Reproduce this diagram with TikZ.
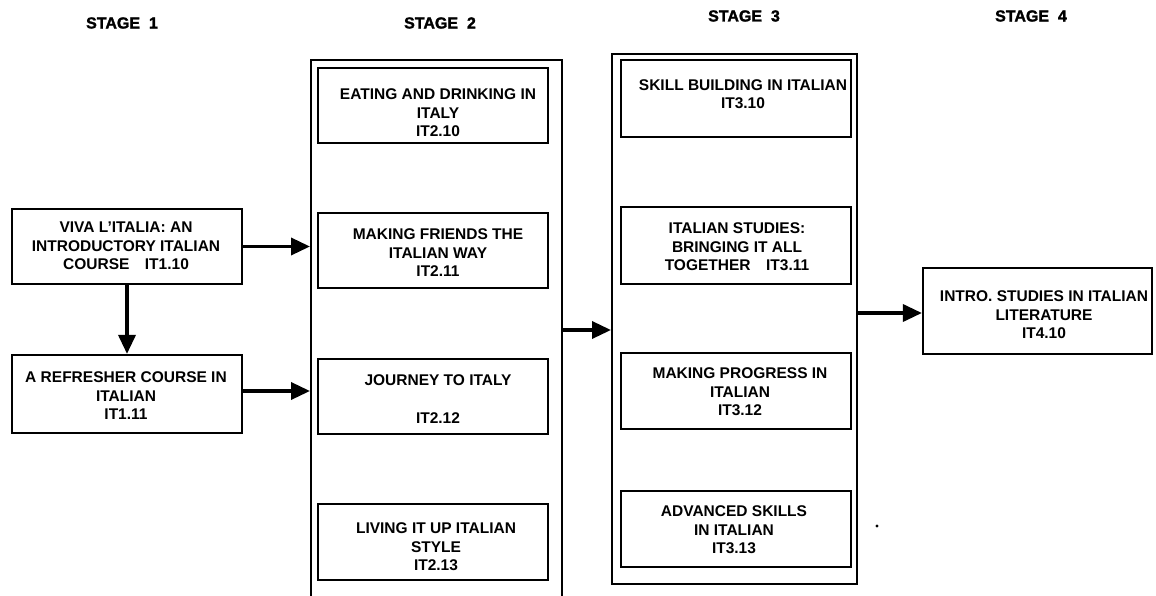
\documentclass[tikz,border=0pt]{standalone}
\usepackage{fontspec}
\setmainfont{Liberation Sans}
\newfontfamily\stagefont[FakeBold=1.6]{Liberation Sans Bold}
\usetikzlibrary{arrows.meta}
\begin{document}
\begin{tikzpicture}[x=1pt,y=-1pt,
  box/.style={draw, line width=2.2pt, inner sep=0pt},
  cont/.style={draw, line width=2pt, inner sep=0pt},
  txt/.style={align=center, font=\fontsize{15.5}{18.5}\selectfont\bfseries, inner sep=0pt},
  stagelbl/.style={font=\fontsize{16}{18}\stagefont, inner sep=0pt},
  arr/.style={line width=3.5pt, -{Triangle[length=19pt,width=17pt]}}]
\useasboundingbox (0,0) rectangle (1156,596);
\clip (0,0) rectangle (1156,596);
\fill[white] (0,0) rectangle (1156,596);

% stage labels
\node[stagelbl] (s1) at (122,23) {STAGE\ \ 1};
\node[stagelbl] (s2) at (440,23) {STAGE\ \ 2};
\node[stagelbl] (s3) at (744,16) {STAGE\ \ 3};
\node[stagelbl] (s4) at (1031,16) {STAGE\ \ 4};

% containers
\node[cont, minimum width=251pt, minimum height=580pt] (c2) at (436.5,350) {};
\node[cont, minimum width=245pt, minimum height=530pt] (c3) at (734.5,319) {};

% stage 1
\node[box, minimum width=230pt, minimum height=75pt] (b110) at (127,246.5) {};
\node[txt] (t110) at (126,246) {VIVA L'ITALIA: AN\\INTRODUCTORY ITALIAN\\COURSE\quad IT1.10};
\node[box, minimum width=230pt, minimum height=78pt] (b111) at (127,394) {};
\node[txt] (t111) at (126,396) {A REFRESHER COURSE IN\\ITALIAN\\IT1.11};

% stage 2
\node[box, minimum width=230pt, minimum height=75pt] (b210) at (433,105.5) {};
\node[txt] (t210) at (438,113) {EATING AND DRINKING IN\\ITALY\\IT2.10};
\node[box, minimum width=230pt, minimum height=75pt] (b211) at (433,250.5) {};
\node[txt] (t211) at (438,253) {MAKING FRIENDS THE\\ITALIAN WAY\\IT2.11};
\node[box, minimum width=230pt, minimum height=75pt] (b212) at (433,396.5) {};
\node[txt] (t212) at (438,399) {JOURNEY TO ITALY\\[19pt]IT2.12};
\node[box, minimum width=230pt, minimum height=76pt] (b213) at (433,542) {};
\node[txt] (t213) at (436,547) {LIVING IT UP ITALIAN\\STYLE\\IT2.13};

% stage 3
\node[box, minimum width=230pt, minimum height=77pt] (b310) at (736,98.5) {};
\node[txt] (t310) at (743,94) {SKILL BUILDING IN ITALIAN\\IT3.10};
\node[box, minimum width=230pt, minimum height=77pt] (b311) at (736,245.5) {};
\node[txt] (t311) at (737,247) {ITALIAN STUDIES:\\BRINGING IT ALL\\TOGETHER\quad IT3.11};
\node[box, minimum width=230pt, minimum height=76pt] (b312) at (736,391) {};
\node[txt] (t312) at (740,392) {MAKING PROGRESS IN\\ITALIAN\\IT3.12};
\node[box, minimum width=230pt, minimum height=76pt] (b313) at (736,529) {};
\node[txt] (t313) at (734,530) {ADVANCED SKILLS\\IN ITALIAN\\IT3.13};

% stage 4
\node[box, minimum width=229pt, minimum height=86pt] (b410) at (1037.5,311) {};
\node[txt] (t410) at (1044,315) {INTRO. STUDIES IN ITALIAN\\LITERATURE\\IT4.10};

% connectors
\draw[arr] (b110.east) -- (b110.east -| c2.west);
\draw[arr] (b111.east |- 0,391) -- (c2.west |- 0,391);
\draw[arr] (b110.south) -- (b111.north);
\draw[arr] (c2.east |- 0,330) -- (c3.west |- 0,330);
\draw[arr] (c3.east |- 0,313) -- (b410.west |- 0,313);

% speck
\fill (877,526) circle (1.6);
\end{tikzpicture}
\end{document}
